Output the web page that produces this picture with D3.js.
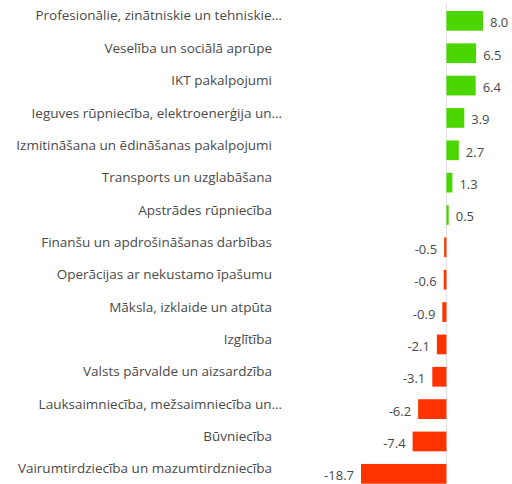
<!DOCTYPE html>
<html>
<head>
<meta charset="utf-8">
<script src="https://cdn.jsdelivr.net/npm/d3@7"></script>
<style>
  html, body { margin: 0; padding: 0; background: #ffffff; }
  svg { display: block; }
</style>
</head>
<body>
<svg id="chart" width="512" height="484"></svg>
<script>
const categories = [
  "Profesionālie, zinātniskie un tehniskie…",
  "Veselība un sociālā aprūpe",
  "IKT pakalpojumi",
  "Ieguves rūpniecība, elektroenerģija un…",
  "Izmitināšana un ēdināšanas pakalpojumi",
  "Transports un uzglabāšana",
  "Apstrādes rūpniecība",
  "Finanšu un apdrošināšanas darbības",
  "Operācijas ar nekustamo īpašumu",
  "Māksla, izklaide un atpūta",
  "Izglītība",
  "Valsts pārvalde un aizsardzība",
  "Lauksaimniecība, mežsaimniecība un…",
  "Būvniecība",
  "Vairumtirdziecība un mazumtirdzniecība"
];
const values = [8.0, 6.5, 6.4, 3.9, 2.7, 1.3, 0.5, -0.5, -0.6, -0.9, -2.1, -3.1, -6.2, -7.4, -18.7];
const valueLabels = ["8.0", "6.5", "6.4", "3.9", "2.7", "1.3", "0.5", "-0.5", "-0.6", "-0.9", "-2.1", "-3.1", "-6.2", "-7.4", "-18.7"];

const data = categories.map((c, i) => ({ cat: c, v: values[i], label: valueLabels[i] }));

const svg = d3.select("#chart");
const font = "'Open Sans', 'Noto Sans', sans-serif";

const x = d3.scaleLinear().domain(d3.extent(values)).range([361, 483]);
const y = d3.scaleBand().domain(categories).range([4.7, 490]).paddingInner(0.39).paddingOuter(0.195);

// zero line
svg.append("line")
  .attr("x1", x(0)).attr("x2", x(0))
  .attr("y1", 4).attr("y2", 484)
  .attr("stroke", "#e0e0e0").attr("stroke-width", 1);

// bars
svg.selectAll("rect.bar").data(data).enter().append("rect")
  .attr("class", "bar")
  .attr("x", d => Math.min(x(0), x(d.v)))
  .attr("width", d => Math.abs(x(d.v) - x(0)))
  .attr("y", d => y(d.cat))
  .attr("height", y.bandwidth())
  .attr("fill", d => d.v >= 0 ? "#4cd600" : "#ff3300");

// category labels
svg.selectAll("text.cat").data(data).enter().append("text")
  .attr("class", "cat")
  .attr("x", d => d.cat.endsWith("…") ? 282 : 272)
  .attr("y", d => y(d.cat) + y.bandwidth() / 2 - 4)
  .attr("text-anchor", "end")
  .attr("dominant-baseline", "middle")
  .attr("font-family", font)
  .attr("font-size", 13.5)
  .attr("fill", "#4a4a4a")
  .text(d => d.cat);

// value labels
svg.selectAll("text.val").data(data).enter().append("text")
  .attr("class", "val")
  .attr("x", d => d.v >= 0 ? x(d.v) + 7 : x(d.v) - 7)
  .attr("y", d => y(d.cat) + y.bandwidth() / 2 + 3)
  .attr("text-anchor", d => d.v >= 0 ? "start" : "end")
  .attr("dominant-baseline", "middle")
  .attr("font-family", font)
  .attr("font-size", 13)
  .attr("fill", "#4a4a4a")
  .text(d => d.label);
</script>
</body>
</html>
